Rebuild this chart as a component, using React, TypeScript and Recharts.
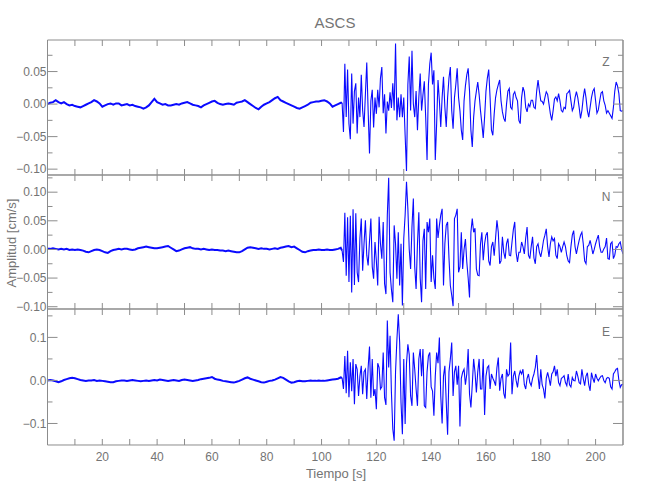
import { LineChart, Line, XAxis, YAxis } from "recharts";

// sampling grid of the record: 1 s before the P arrival, 0.5 s after it
const NOISE_DT = 1;
const SIGNAL_T0 = 107.5;
const SIGNAL_DT = 0.5;

const noiseZ = [
  0.0, 0.002, 0.003, 0.006, 0.003, 0.001, 0.003, 0.0, -0.002, -0.001,
  -0.003, -0.004, -0.005, -0.003, -0.001, 0.001, 0.003, 0.006, 0.004, 0.001,
  -0.004, -0.002, 0.0, 0.001, -0.001, 0.001, 0.001, -0.002, -0.001, 0.0,
  -0.002, -0.001, -0.003, -0.004, -0.005, -0.007, -0.005, -0.002, 0.003, 0.008,
  0.003, 0.001, -0.001, 0.0, -0.002, -0.002, -0.001, 0.0, -0.001, 0.001,
  0.002, 0.003, 0.001, -0.001, -0.002, -0.003, -0.005, -0.002, 0.0, 0.002,
  0.004, 0.005, 0.002, 0.0, -0.001, 0.0, 0.001, 0.0, -0.001, 0.002,
  0.003, 0.004, 0.006, 0.003, 0.0, -0.003, -0.006, -0.008, -0.004, -0.001,
  0.001, 0.003, 0.006, 0.009, 0.011, 0.006, 0.004, 0.002, 0.0, -0.002,
  -0.004, -0.006, -0.007, -0.005, -0.003, -0.001, 0.002, 0.003, 0.004, 0.004,
  0.005, 0.006, 0.004, 0.001, -0.004, -0.002, 0.0, 0.002,
];

const noiseN = [
  0.001, 0.001, 0.002, 0.001, 0.0, 0.001, 0.0, 0.001, -0.001, 0.0,
  -0.001, 0.0, -0.001, -0.002, -0.004, -0.005, -0.003, -0.001, 0.0, -0.001,
  -0.003, -0.005, -0.006, -0.003, -0.001, 0.0, 0.001, 0.0, 0.001, 0.001,
  0.0, -0.001, 0.0, 0.002, 0.003, 0.004, 0.005, 0.004, 0.003, 0.002,
  0.002, 0.003, 0.004, 0.005, 0.006, 0.003, 0.0, -0.003, -0.002, 0.0,
  0.002, 0.003, 0.004, 0.002, 0.001, 0.001, 0.0, 0.001, 0.0, -0.001,
  0.0, -0.001, -0.001, -0.002, -0.002, -0.003, -0.002, -0.003, -0.004, -0.005,
  -0.005, -0.003, 0.0, 0.003, 0.004, 0.003, 0.002, 0.001, 0.002, 0.001,
  0.001, 0.0, 0.001, 0.002, 0.001, 0.003, 0.004, 0.005, 0.006, 0.004,
  0.005, 0.002, -0.001, -0.004, -0.005, -0.003, -0.002, -0.001, -0.001, 0.0,
  -0.001, -0.001, 0.0, -0.001, -0.001, 0.0, 0.001, 0.003,
];

const noiseE = [
  0.0, 0.001, 0.0, -0.002, -0.004, -0.002, 0.001, 0.003, 0.005, 0.006,
  0.005, 0.003, 0.001, 0.0, -0.001, 0.0, 0.0, 0.001, -0.001, 0.0,
  -0.001, -0.002, -0.003, -0.004, -0.004, -0.002, -0.001, 0.0, 0.0, -0.001,
  0.0, 0.001, 0.0, -0.001, -0.002, -0.001, 0.0, -0.001, 0.0, 0.001,
  0.0, 0.002, 0.001, 0.0, -0.001, 0.0, 0.001, 0.0, -0.001, 0.001,
  0.002, 0.001, 0.0, -0.001, 0.0, 0.001, 0.003, 0.004, 0.005, 0.006,
  0.008, 0.004, 0.002, 0.001, -0.001, -0.002, -0.003, -0.004, -0.005, -0.003,
  -0.001, 0.002, 0.005, 0.007, 0.004, 0.002, 0.0, -0.002, -0.004, -0.005,
  -0.003, -0.001, 0.0, 0.002, 0.005, 0.008, 0.006, 0.002, -0.002, -0.005,
  -0.004, -0.002, -0.001, -0.002, -0.002, -0.001, 0.0, -0.001, -0.001, 0.0,
  -0.001, -0.001, 0.0, 0.001, 0.002, 0.003, 0.004, 0.007,
];

const signalZ = [
  0.002, -0.043, 0.062, -0.02, 0.053, -0.03, -0.054, 0.047, -0.03, 0.02,
  0.032, -0.045, 0.01, -0.02, 0.045, -0.01, -0.035, 0.015, 0.064, -0.01,
  -0.076, 0.005, 0.022, -0.036, 0.01, -0.015, 0.022, -0.005, 0.04, 0.057,
  -0.014, 0.015, -0.045, 0.004, -0.01, 0.018, -0.006, 0.032, -0.01, 0.093,
  -0.025, 0.01, -0.02, 0.015, -0.02, 0.01, -0.048, -0.103, 0.03, 0.073,
  -0.01, 0.082, 0.0, -0.02, 0.02, -0.04, 0.01, 0.047, -0.01, 0.014,
  0.035, -0.02, -0.086, 0.03, 0.062, 0.079, 0.03, 0.052, -0.086, -0.03,
  0.037, 0.005, -0.035, 0.01, 0.042, -0.005, -0.035, 0.01, 0.04, 0.057,
  -0.01, -0.038, 0.01, 0.03, 0.055, 0.01, -0.01, -0.04, -0.055, 0.005,
  0.028, 0.045, 0.055, 0.02, -0.04, -0.066, -0.02, 0.005, 0.02, 0.034,
  0.015, -0.01, -0.03, -0.052, -0.02, 0.02, 0.04, 0.053, 0.01, -0.04,
  -0.048, -0.015, 0.01, 0.022, 0.03, 0.037, 0.005, -0.012, -0.022, -0.027,
  0.0, 0.02, 0.024, -0.005, -0.008, 0.015, 0.019, 0.01, 0.005, -0.025,
  -0.03, 0.01, 0.026, 0.019, -0.005, -0.012, 0.0, -0.004, 0.006, 0.006,
  -0.005, -0.007, 0.02, 0.037, 0.02, 0.005, 0.004, 0.0, 0.01, 0.019,
  0.015, 0.0, -0.015, -0.025, -0.01, 0.008, 0.011, 0.005, 0.016, 0.005,
  -0.01, -0.012, -0.005, -0.007, 0.016, 0.018, 0.021, 0.005, -0.01, -0.005,
  0.01, 0.019, 0.01, -0.005, -0.022, -0.01, 0.01, 0.024, 0.01, -0.01,
  -0.02, -0.005, 0.01, 0.02, 0.024, 0.005, -0.014, -0.009, 0.005, 0.017,
  0.019, 0.005, -0.002, -0.014, -0.01, -0.014, -0.018, -0.022, -0.005, 0.02,
  0.034, 0.028, 0.016, -0.01, -0.011, -0.01,
];

const signalN = [
  -0.002, -0.022, 0.064, -0.046, 0.056, -0.057, 0.059, -0.075, 0.07, -0.062,
  0.063, -0.04, -0.057, 0.02, 0.054, -0.037, 0.01, 0.051, -0.01, -0.028,
  0.015, 0.054, -0.03, -0.051, 0.013, -0.02, -0.063, 0.057, 0.01, -0.016,
  0.048, -0.06, -0.078, 0.06, 0.125, -0.04, -0.07, -0.092, 0.042, 0.01,
  -0.051, 0.03, -0.063, 0.01, -0.098, 0.019, 0.06, 0.118, 0.071, 0.0,
  -0.034, 0.04, 0.089, -0.03, -0.069, 0.01, 0.065, -0.05, -0.092, 0.015,
  0.036, -0.069, 0.048, 0.03, 0.054, -0.057, -0.01, -0.05, -0.069, 0.054,
  0.02, 0.042, 0.06, 0.071, -0.063, 0.01, 0.042, 0.048, -0.015, -0.063,
  -0.08, -0.099, 0.054, 0.06, 0.071, -0.04, -0.03, 0.03, -0.034, 0.0,
  0.018, -0.022, -0.05, -0.084, 0.03, 0.054, 0.03, 0.037, -0.034, -0.045,
  -0.046, 0.01, 0.03, -0.019, 0.01, 0.025, 0.03, -0.02, -0.028, 0.005,
  0.013, -0.011, 0.02, 0.051, 0.03, -0.025, -0.02, 0.022, -0.005, -0.016,
  0.01, 0.019, -0.01, -0.011, 0.013, 0.035, 0.048, -0.005, -0.022, -0.005,
  -0.005, 0.013, 0.005, -0.008, 0.02, 0.039, -0.01, -0.016, 0.005, 0.022,
  -0.015, -0.025, 0.005, 0.01, -0.005, -0.013, 0.0, 0.016, 0.025, 0.036,
  0.005, -0.013, 0.01, 0.022, 0.015, 0.019, -0.01, -0.016, 0.01, 0.005,
  -0.005, 0.005, 0.013, 0.005, -0.011, -0.02, -0.023, 0.005, 0.025, 0.033,
  0.005, -0.008, 0.005, 0.016, 0.025, 0.03, 0.01, -0.02, -0.025, 0.005,
  0.007, 0.016, 0.005, -0.008, 0.0, 0.01, 0.018, 0.025, 0.005, -0.005,
  -0.005, 0.001, 0.005, 0.02, -0.016, -0.017, 0.01, 0.013, -0.016, -0.01,
  0.005, 0.004, 0.01, 0.013, 0.0, -0.008,
];

const signalE = [
  0.006, -0.02, 0.057, -0.03, 0.069, -0.039, 0.042, -0.025, 0.05, -0.055,
  0.038, 0.026, -0.036, 0.01, 0.034, -0.032, 0.02, 0.026, -0.043, 0.03,
  0.079, -0.04, 0.05, -0.036, -0.02, -0.067, 0.04, 0.03, -0.02, -0.015,
  0.065, -0.04, -0.057, 0.139, 0.03, 0.104, -0.028, -0.113, -0.14, 0.02,
  0.095, 0.154, 0.088, -0.051, -0.125, 0.05, -0.101, 0.04, 0.084, 0.06,
  -0.036, -0.059, 0.065, 0.026, -0.02, -0.059, 0.05, 0.073, 0.01, 0.073,
  -0.059, -0.063, 0.02, 0.057, 0.065, -0.015, -0.025, -0.082, 0.01, 0.065,
  0.04, 0.1, -0.036, -0.1, 0.01, 0.034, -0.05, -0.126, 0.02, 0.05,
  0.088, -0.036, 0.02, 0.034, -0.01, 0.034, -0.107, 0.005, 0.019, 0.026,
  -0.01, 0.015, 0.073, -0.032, -0.063, -0.01, 0.05, 0.019, -0.028, 0.02,
  0.05, -0.02, -0.02, 0.05, -0.08, 0.01, 0.03, 0.034, -0.02, 0.015,
  0.005, -0.002, -0.012, 0.03, 0.053, -0.024, 0.005, 0.015, -0.03, -0.042,
  0.026, 0.01, 0.015, 0.088, -0.032, 0.01, 0.022, 0.0, -0.016, 0.01,
  0.022, 0.015, 0.026, -0.01, -0.02, 0.005, 0.015, -0.005, -0.012, 0.005,
  0.015, 0.03, 0.059, 0.01, -0.02, 0.026, -0.01, -0.02, -0.042, 0.005,
  0.019, 0.005, -0.012, 0.015, 0.02, 0.034, 0.01, 0.026, -0.005, -0.012,
  0.005, 0.007, 0.011, -0.005, -0.012, 0.015, -0.01, -0.015, 0.007, 0.0,
  -0.001, 0.022, 0.01, -0.005, -0.008, 0.026, 0.005, -0.012, 0.01, 0.018,
  -0.01, -0.024, 0.018, 0.005, -0.005, 0.015, 0.005, -0.001, 0.005, 0.01,
  0.011, 0.0, -0.005, 0.005, 0.007, 0.005, -0.015, -0.02, 0.015, 0.02,
  0.026, 0.028, 0.0, -0.016, -0.01, -0.009,
];

const timeTicks = [10, 20, 30, 40, 50, 60, 70, 80, 90, 100, 110, 120, 130, 140, 150, 160, 170, 180, 190, 200];
const zMajor = [0.05, 0, -0.05, -0.1];
const zMinor = [0.075, 0.025, -0.025, -0.075];
const nMajor = [0.1, 0.05, 0, -0.05, -0.1];
const nMinor = [0.125, 0.075, 0.025, -0.025, -0.075];
const eMajor = [0.1, 0, -0.1];
const eMinor = [0.15, 0.05, -0.05];

const AXIS = "#8c8c8c";
const TEXT = "#747474";
const TRACE = "#0a0aff";
const FONT = "'Liberation Sans', Arial, sans-serif";

type Pt = { t: number; n?: number; s?: number };

// pre-event noise and the event itself go in separate keys so the quiet part can be drawn heavier
function buildTrace(noise: number[], signal: number[]): Pt[] {
  const a = noise.map((v, i) => ({ t: i * NOISE_DT, n: v }));
  const b = signal.map((v, j) => ({ t: SIGNAL_T0 + j * SIGNAL_DT, s: v }));
  // join point so both pieces meet
  a.push({ t: SIGNAL_T0, n: signal[0] });
  return [...a, ...b];
}

const fmt2 = (v: number) => (v < 0 ? "\u2212" : "") + Math.abs(v).toFixed(2);
const fmt1 = (v: number) => (v < 0 ? "\u2212" : "") + Math.abs(v).toFixed(1);

type PanelProps = {
  data: Pt[];
  domain: [number, number];
  major: number[];
  minor: number[];
  top: number;
  bottom: number;
  fmt: (v: number) => string;
  timeLabels: boolean;
};

function Panel({ data, domain, major, minor, top, bottom, fmt, timeLabels }: PanelProps) {
  const tickStyle = { fill: TEXT, fontSize: 12, fontFamily: FONT };
  const blank = () => "";
  return (
    <div style={{ position: "absolute", left: 0, top: 0 }}>
      <LineChart width={650} height={500} data={data} margin={{ top, bottom: 500 - bottom, left: 47.5, right: 27 }}>
        <XAxis
          xAxisId="b"
          dataKey="t"
          type="number"
          orientation="bottom"
          domain={[0, 210]}
          allowDataOverflow
          ticks={timeTicks}
          interval={0}
          height={0.001}
          tickSize={-6}
          tickMargin={13}
          stroke={AXIS}
          tick={tickStyle}
          tickFormatter={(v: number) => (timeLabels && v % 20 === 0 ? String(v) : "")}
        />
        <XAxis
          xAxisId="t"
          dataKey="t"
          type="number"
          orientation="top"
          domain={[0, 210]}
          allowDataOverflow
          ticks={timeTicks}
          interval={0}
          height={0.001}
          tickSize={-6}
          stroke={AXIS}
          tick={tickStyle}
          tickFormatter={blank}
        />
        <YAxis
          yAxisId="lm"
          type="number"
          domain={domain}
          allowDataOverflow
          ticks={minor}
          interval={0}
          width={0.001}
          tickSize={-5}
          stroke={AXIS}
          tick={tickStyle}
          tickFormatter={blank}
        />
        <YAxis
          yAxisId="l"
          type="number"
          domain={domain}
          allowDataOverflow
          ticks={major}
          interval={0}
          width={0.001}
          tickSize={-10}
          tickMargin={11}
          stroke={AXIS}
          tick={tickStyle}
          tickFormatter={fmt}
        />
        <YAxis
          yAxisId="rm"
          orientation="right"
          type="number"
          domain={domain}
          allowDataOverflow
          ticks={minor}
          interval={0}
          width={0.001}
          tickSize={-5}
          stroke={AXIS}
          tick={tickStyle}
          tickFormatter={blank}
        />
        <YAxis
          yAxisId="r"
          orientation="right"
          type="number"
          domain={domain}
          allowDataOverflow
          ticks={major}
          interval={0}
          width={0.001}
          tickSize={-10}
          stroke={AXIS}
          tick={tickStyle}
          tickFormatter={blank}
        />
        <Line
          xAxisId="b"
          yAxisId="l"
          dataKey="n"
          type="linear"
          stroke={TRACE}
          strokeWidth={2}
          dot={false}
          isAnimationActive={false}
        />
        <Line
          xAxisId="b"
          yAxisId="l"
          dataKey="s"
          type="linear"
          stroke={TRACE}
          strokeWidth={1.1}
          dot={false}
          isAnimationActive={false}
        />
      </LineChart>
    </div>
  );
}

export default function App() {
  const dz = buildTrace(noiseZ, signalZ);
  const dn = buildTrace(noiseN, signalN);
  const de = buildTrace(noiseE, signalE);
  return (
    <div style={{ position: "absolute", left: 0, top: 0, width: 650, height: 500, background: "#fff" }}>
      <Panel data={dz} domain={[-0.109, 0.0985]} major={zMajor} minor={zMinor} top={40} bottom={175} fmt={fmt2} timeLabels={false} />
      <Panel data={dn} domain={[-0.104, 0.13]} major={nMajor} minor={nMinor} top={175} bottom={309} fmt={fmt2} timeLabels={false} />
      <Panel data={de} domain={[-0.15, 0.166]} major={eMajor} minor={eMinor} top={309} bottom={445} fmt={fmt1} timeLabels={true} />
      <svg width={650} height={500} style={{ position: "absolute", left: 0, top: 0, pointerEvents: "none" }}>
        <text x={335} y={28} textAnchor="middle" fontSize={15} fontFamily={FONT} fill={TEXT}>
          ASCS
        </text>
        <text x={16} y={243} transform="rotate(-90 16 243)" textAnchor="middle" fontSize={13} fontFamily={FONT} fill={TEXT}>
          Amplitud [cm/s]
        </text>
        <text x={336} y={478} textAnchor="middle" fontSize={13} fontFamily={FONT} fill={TEXT}>
          Tiempo [s]
        </text>
        <text x={606} y={66} textAnchor="middle" fontSize={12} fontFamily={FONT} fill={TEXT}>Z</text>
        <text x={606} y={201} textAnchor="middle" fontSize={12} fontFamily={FONT} fill={TEXT}>N</text>
        <text x={606} y={336} textAnchor="middle" fontSize={12} fontFamily={FONT} fill={TEXT}>E</text>
      </svg>
    </div>
  );
}
